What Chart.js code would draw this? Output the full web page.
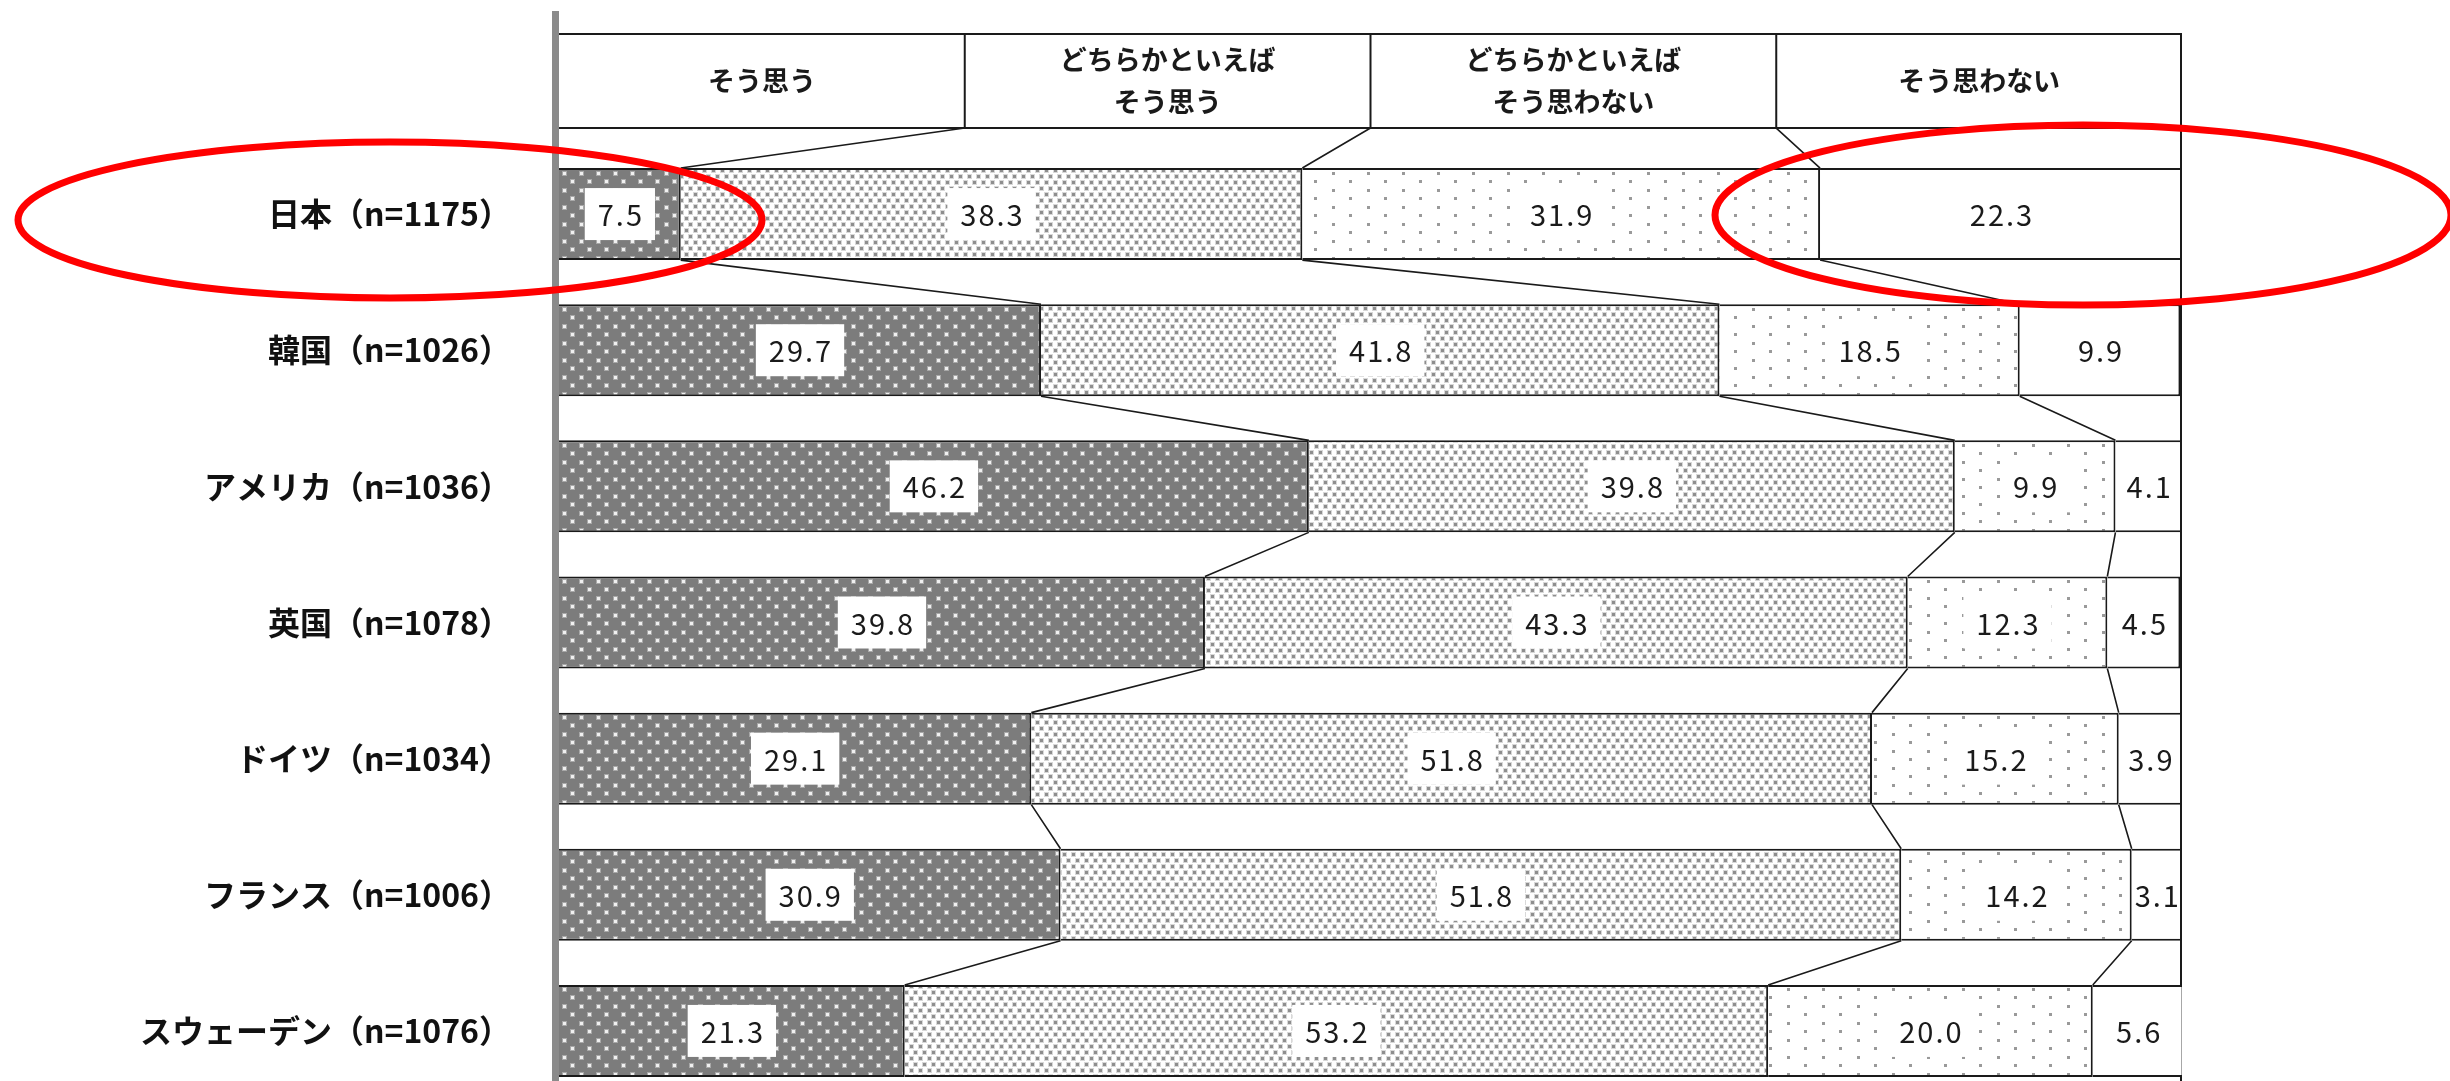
<!DOCTYPE html>
<html lang="ja">
<head>
<meta charset="utf-8">
<title>国際比較</title>
<script src="https://cdn.jsdelivr.net/npm/chart.js@4.4.0/dist/chart.umd.min.js"></script>
<style>
  html, body { margin: 0; padding: 0; background: #fff; overflow: hidden; }
  #wrap { width: 2450px; height: 1081px; overflow: hidden; }
  canvas { display: block; }
</style>
</head>
<body>
<div id="wrap"><canvas id="myBarChart" width="2450" height="1100"></canvas></div>
<script>
var countries = ['日本（n=1175）', '韓国（n=1026）', 'アメリカ（n=1036）', '英国（n=1078）',
                 'ドイツ（n=1034）', 'フランス（n=1006）', 'スウェーデン（n=1076）'];
var soOmou = [7.5, 29.7, 46.2, 39.8, 29.1, 30.9, 21.3];
var dochiraSoOmou = [38.3, 41.8, 39.8, 43.3, 51.8, 51.8, 53.2];
var dochiraSoOmowanai = [31.9, 18.5, 9.9, 12.3, 15.2, 14.2, 20.0];
var soOmowanai = [22.3, 9.9, 4.1, 4.5, 3.9, 3.1, 5.6];
var seriesNames = ['そう思う', 'どちらかといえばそう思う', 'どちらかといえばそう思わない', 'そう思わない'];
var headerLines = [['そう思う'], ['どちらかといえば', 'そう思う'], ['どちらかといえば', 'そう思わない'], ['そう思わない']];

var fontFamily = '"Noto Sans CJK JP", "Noto Sans", sans-serif';
Chart.defaults.font.family = fontFamily;

// dotted fills like the printed original
function makePattern(w, h, bg, dots) {
  var c = document.createElement('canvas');
  c.width = w; c.height = h;
  var g = c.getContext('2d');
  g.fillStyle = bg;
  g.fillRect(0, 0, w, h);
  dots.forEach(function (d) {
    g.fillStyle = d[4];
    g.fillRect(d[0], d[1], d[2], d[3]);
  });
  return g.createPattern(c, 'repeat');
}

var ctx = document.getElementById('myBarChart').getContext('2d');
var pat1 = makePattern(17, 17, '#7c7c7c', [
  [1, 1, 5, 5, '#a8a8a8'], [2, 2, 3, 3, '#f0f0f0'],
  [9, 9, 5, 5, '#a8a8a8'], [10, 10, 3, 3, '#f0f0f0']]);
var pat2 = makePattern(9, 12, '#ffffff', [
  [0, 0, 5, 5, '#d8d8d8'], [1, 1, 3, 3, '#8e8e8e'],
  [4, 6, 5, 5, '#d8d8d8'], [5, 7, 3, 3, '#8e8e8e']]);
var pat3 = makePattern(35, 17, '#ffffff', [
  [2, 2, 3, 3, '#9a9a9a'], [19, 10, 3, 3, '#9a9a9a']]);

var lineColor = '#1a1a1a';

var decorPlugin = {
  id: 'decor',
  beforeDatasetsDraw: function (chart) {
    var c = chart.ctx, area = chart.chartArea, xs = chart.scales.x;
    var first = chart.getDatasetMeta(0).data[0];
    var barTop = first.y - first.height / 2;
    var headBottom = barTop - 40, headTop = headBottom - 94;
    c.save();
    // header table
    c.fillStyle = '#fff';
    c.fillRect(area.left, headTop, area.right - area.left, headBottom - headTop);
    c.strokeStyle = lineColor;
    c.lineWidth = 2;
    c.beginPath();
    c.moveTo(area.left, headTop); c.lineTo(area.right, headTop);
    c.moveTo(area.left, headBottom); c.lineTo(area.right, headBottom);
    for (var k = 1; k < 4; k++) {
      var hx = xs.getPixelForValue(k * 25);
      c.moveTo(hx, headTop); c.lineTo(hx, headBottom);
    }
    c.stroke();
    c.fillStyle = '#1a1a1a';
    c.font = 'bold 27px ' + fontFamily;
    c.textAlign = 'center';
    c.textBaseline = 'middle';
    headerLines.forEach(function (lines, k) {
      var cx = xs.getPixelForValue(k * 25 + 12.5);
      var cy = (headTop + headBottom) / 2;
      lines.forEach(function (t, j) {
        c.fillText(t, cx, cy + (j - (lines.length - 1) / 2) * 42);
      });
    });
    // connector lines: header -> first row, and row -> next row
    c.lineWidth = 1.6;
    c.beginPath();
    for (var s = 0; s < 3; s++) {
      var meta = chart.getDatasetMeta(s).data;
      c.moveTo(xs.getPixelForValue((s + 1) * 25), headBottom);
      c.lineTo(meta[0].x, meta[0].y - meta[0].height / 2);
      for (var i = 0; i < meta.length - 1; i++) {
        c.moveTo(meta[i].x, meta[i].y + meta[i].height / 2);
        c.lineTo(meta[i + 1].x, meta[i + 1].y - meta[i + 1].height / 2);
      }
    }
    c.stroke();
    // right border and grey axis
    c.lineWidth = 2;
    c.beginPath();
    c.moveTo(area.right - 1, headTop - 1);
    c.lineTo(area.right - 1, chart.height);
    c.stroke();
    c.fillStyle = '#8a8a8a';
    c.fillRect(area.left - 7, 11, 7, chart.height);
    c.restore();
  },
  afterDatasetsDraw: function (chart) {
    var c = chart.ctx;
    c.save();
    c.font = '29px ' + fontFamily;
    c.letterSpacing = '2px';
    c.textAlign = 'center';
    c.textBaseline = 'middle';
    chart.data.datasets.forEach(function (ds, s) {
      chart.getDatasetMeta(s).data.forEach(function (el, i) {
        var txt = ds.data[i].toFixed(1);
        var cx = (el.x + el.base) / 2, cy = el.y;
        if (s < 3) {
          var w = c.measureText(txt).width + 24;
          c.fillStyle = '#fff';
          c.fillRect(cx - w / 2, cy - 26, w, 52);
        }
        c.fillStyle = '#1a1a1a';
        c.fillText(txt, cx + 1, cy + 1);
      });
    });
    c.restore();
  },
  afterDraw: function (chart) {
    var c = chart.ctx, area = chart.chartArea;
    var first = chart.getDatasetMeta(0).data[0];
    c.save();
    c.strokeStyle = '#ff0000';
    c.lineWidth = 7;
    c.beginPath();
    c.ellipse(area.left - 169, first.y + 6, 372, 78, 0, 0, Math.PI * 2);
    c.stroke();
    c.beginPath();
    c.ellipse(area.right - 99, first.y + 1, 368, 90, 0, 0, Math.PI * 2);
    c.stroke();
    c.restore();
  }
};

function seriesSet(i, values, fill) {
  return {
    label: seriesNames[i],
    data: values,
    backgroundColor: fill,
    borderColor: lineColor,
    borderWidth: { top: 2, right: 2, bottom: 2, left: 0 },
    borderSkipped: false,
    barPercentage: 0.676,
    categoryPercentage: 1
  };
}

var chart = new Chart(ctx, {
  type: 'bar',
  data: {
    labels: countries,
    datasets: [
      seriesSet(0, soOmou, pat1),
      seriesSet(1, dochiraSoOmou, pat2),
      seriesSet(2, dochiraSoOmowanai, pat3),
      seriesSet(3, soOmowanai, '#ffffff')
    ]
  },
  options: {
    indexAxis: 'y',
    responsive: false,
    animation: false,
    layout: { padding: { top: 146, right: 268, bottom: 1, left: 0 } },
    plugins: {
      legend: { display: false },
      tooltip: { enabled: false },
      title: { display: false }
    },
    scales: {
      x: { stacked: true, min: 0, max: 100, display: false },
      y: {
        stacked: true,
        grid: { display: false, drawTicks: false },
        border: { display: false },
        ticks: { padding: 48, color: '#111', font: { size: 32, weight: 'bold' } },
        afterFit: function (scale) {
          scale.width = 559;
          scale.paddingTop = 0;
          scale.paddingBottom = 0;
        }
      }
    }
  },
  plugins: [decorPlugin]
});
</script>
</body>
</html>
